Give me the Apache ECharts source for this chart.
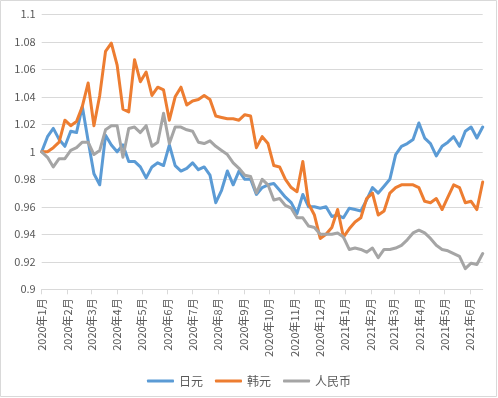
<!DOCTYPE html>
<html>
<head>
<meta charset="utf-8">
<script src="https://cdn.jsdelivr.net/npm/echarts@6/dist/echarts.min.js"></script>
<style>
  html, body { margin: 0; padding: 0; background: #fff; }
  #chartLine { width: 498px; height: 398px; }
</style>
</head>
<body>
<div id="chartLine"></div>
<script>
// 周数据（每周三）
var weeks = [
  '2020-01-01','2020-01-08','2020-01-15','2020-01-22','2020-01-29',
  '2020-02-05','2020-02-12','2020-02-19','2020-02-26',
  '2020-03-04','2020-03-11','2020-03-18','2020-03-25',
  '2020-04-01','2020-04-08','2020-04-15','2020-04-22','2020-04-29',
  '2020-05-06','2020-05-13','2020-05-20','2020-05-27',
  '2020-06-03','2020-06-10','2020-06-17','2020-06-24',
  '2020-07-01','2020-07-08','2020-07-15','2020-07-22','2020-07-29',
  '2020-08-05','2020-08-12','2020-08-19','2020-08-26',
  '2020-09-02','2020-09-09','2020-09-16','2020-09-23','2020-09-30',
  '2020-10-07','2020-10-14','2020-10-21','2020-10-28',
  '2020-11-04','2020-11-11','2020-11-18','2020-11-25',
  '2020-12-02','2020-12-09','2020-12-16','2020-12-23','2020-12-30',
  '2021-01-06','2021-01-13','2021-01-20','2021-01-27',
  '2021-02-03','2021-02-10','2021-02-17','2021-02-24',
  '2021-03-03','2021-03-10','2021-03-17','2021-03-24','2021-03-31',
  '2021-04-07','2021-04-14','2021-04-21','2021-04-28',
  '2021-05-05','2021-05-12','2021-05-19','2021-05-26',
  '2021-06-02','2021-06-09','2021-06-16'
];

// 日元
var jpy = [
  1.000, 1.011, 1.017, 1.009, 1.004, 1.015, 1.014, 1.033, 1.008, 0.984,
  0.976, 1.012, 1.005, 1.000, 1.005, 0.993, 0.993, 0.989, 0.981, 0.989,
  0.992, 0.990, 1.005, 0.990, 0.986, 0.988, 0.992, 0.987, 0.989, 0.983,
  0.963, 0.972, 0.986, 0.976, 0.986, 0.980, 0.980, 0.969, 0.974, 0.976,
  0.977, 0.972, 0.967, 0.963, 0.955, 0.969, 0.960, 0.960, 0.959, 0.960,
  0.953, 0.954, 0.952, 0.959, 0.958, 0.957, 0.965, 0.974, 0.970, 0.975,
  0.980, 0.998, 1.004, 1.006, 1.009, 1.021, 1.010, 1.006, 0.997, 1.004,
  1.007, 1.011, 1.004, 1.015, 1.018, 1.010, 1.018
];

// 韩元
var krw = [
  1.000, 1.000, 1.003, 1.007, 1.023, 1.019, 1.022, 1.033, 1.050, 1.019,
  1.041, 1.073, 1.079, 1.063, 1.031, 1.029, 1.067, 1.051, 1.058, 1.041,
  1.047, 1.045, 1.023, 1.040, 1.047, 1.034, 1.037, 1.038, 1.041, 1.038,
  1.026, 1.025, 1.024, 1.024, 1.023, 1.027, 1.026, 1.003, 1.011, 1.006,
  0.990, 0.989, 0.980, 0.974, 0.971, 0.993, 0.962, 0.954, 0.937, 0.940,
  0.945, 0.958, 0.938, 0.944, 0.949, 0.952, 0.966, 0.970, 0.954, 0.957,
  0.970, 0.974, 0.976, 0.976, 0.976, 0.974, 0.964, 0.963, 0.966, 0.958,
  0.967, 0.976, 0.974, 0.963, 0.964, 0.958, 0.978
];

// 人民币
var cny = [
  1.000, 0.996, 0.989, 0.995, 0.995, 1.001, 1.003, 1.007, 1.007, 0.998,
  1.001, 1.016, 1.019, 1.019, 0.996, 1.017, 1.018, 1.014, 1.019, 1.004,
  1.007, 1.028, 1.006, 1.018, 1.018, 1.016, 1.015, 1.007, 1.006, 1.008,
  1.004, 1.001, 0.998, 0.992, 0.988, 0.983, 0.982, 0.970, 0.980, 0.976,
  0.965, 0.966, 0.961, 0.959, 0.952, 0.952, 0.946, 0.945, 0.940, 0.940,
  0.940, 0.941, 0.938, 0.929, 0.930, 0.929, 0.927, 0.930, 0.923, 0.929,
  0.929, 0.930, 0.932, 0.936, 0.941, 0.943, 0.941, 0.937, 0.932, 0.929,
  0.928, 0.926, 0.924, 0.915, 0.919, 0.918, 0.926
];

// 横轴刻度（每月1日）
var monthTicks = [
  '2020-01-01','2020-02-01','2020-03-01','2020-04-01','2020-05-01','2020-06-01',
  '2020-07-01','2020-08-01','2020-09-01','2020-10-01','2020-11-01','2020-12-01',
  '2021-01-01','2021-02-01','2021-03-01','2021-04-01','2021-05-01','2021-06-01'
];
var monthLabels = [
  '2020年1月','2020年2月','2020年3月','2020年4月','2020年5月','2020年6月',
  '2020年7月','2020年8月','2020年9月','2020年10月','2020年11月','2020年12月',
  '2021年1月','2021年2月','2021年3月','2021年4月','2021年5月','2021年6月'
];

var seriesNames = ['日元', '韩元', '人民币'];
var seriesColors = ['#5b9bd5', '#ed7d31', '#a5a5a5'];

// 日期 -> 距起始日的天数（横轴按天计）
function toDay(s) {
  var p = s.split('-');
  return Math.round((Date.UTC(+p[0], +p[1] - 1, +p[2]) - Date.UTC(2020, 0, 1)) / 86400000);
}

var tickDays = monthTicks.map(toDay);
var font = "'Noto Sans CJK SC', 'Microsoft YaHei', sans-serif";

function pairs(vals) {
  var out = [];
  for (var i = 0; i < vals.length; i++) {
    out.push([toDay(weeks[i]), vals[i]]);
  }
  return out;
}

var chartLine = echarts.init(document.getElementById('chartLine'));
chartLine.setOption({
  animation: false,
  backgroundColor: '#fff',
  textStyle: { fontFamily: font },
  graphic: [{
    type: 'rect',
    shape: { x: 0.5, y: 0.5, width: 496, height: 396 },
    style: { fill: 'none', stroke: '#d9d9d9', lineWidth: 1 },
    silent: true
  }],
  grid: {
    left: 41.7,
    right: 15.3,
    top: 14.3,
    bottom: 108.7,
    containLabel: false
  },
  legend: {
    data: seriesNames,
    left: 'center',
    top: 370,
    icon: 'roundRect',
    itemWidth: 27,
    itemHeight: 3,
    itemGap: 12,
    textStyle: { color: '#595959', fontSize: 12, fontFamily: font }
  },
  xAxis: {
    type: 'value',
    min: toDay(weeks[0]),
    max: toDay(weeks[weeks.length - 1]),
    axisLine: { onZero: false, lineStyle: { color: '#d9d9d9', width: 1 } },
    axisTick: {
      show: true,
      length: 5,
      customValues: tickDays,
      lineStyle: { color: '#d9d9d9' }
    },
    splitLine: { show: false },
    axisLabel: {
      customValues: tickDays,
      rotate: 90,
      margin: 9,
      color: '#595959',
      fontSize: 11,
      fontFamily: font,
      hideOverlap: false,
      formatter: function (v) {
        var k = tickDays.indexOf(Math.round(v));
        return k >= 0 ? monthLabels[k] : '';
      }
    }
  },
  yAxis: {
    type: 'value',
    min: 0.9,
    max: 1.1,
    interval: 0.02,
    axisLine: { show: false },
    axisTick: { show: false },
    splitLine: { lineStyle: { color: '#d9d9d9', width: 1 } },
    axisLabel: {
      margin: 6,
      color: '#595959',
      fontSize: 11,
      fontFamily: font,
      formatter: function (v) {
        return String(parseFloat(v.toFixed(2)));
      }
    }
  },
  series: [jpy, krw, cny].map(function (vals, i) {
    return {
      name: seriesNames[i],
      type: 'line',
      data: pairs(vals),
      showSymbol: false,
      symbol: 'none',
      color: seriesColors[i],
      lineStyle: { width: 3, color: seriesColors[i], join: 'round', cap: 'round' }
    };
  })
});
</script>
</body>
</html>
